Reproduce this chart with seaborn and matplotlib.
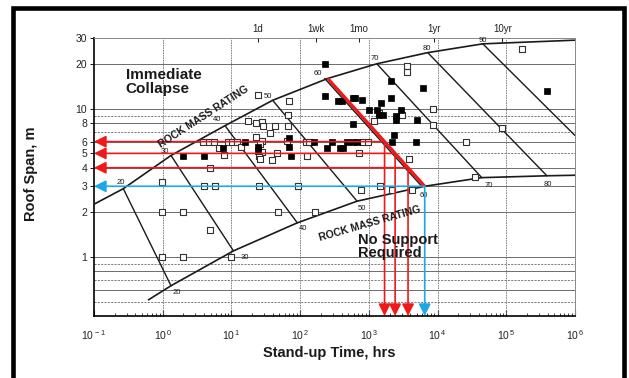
import numpy as np
import pandas as pd
import matplotlib
matplotlib.use("Agg")
import matplotlib.pyplot as plt
import matplotlib.transforms as mtransforms
from matplotlib.patches import Rectangle
from matplotlib.ticker import FixedLocator, NullLocator, LogLocator, NullFormatter
import seaborn as sns

# ---------------- data ----------------
# Upper limit curve (immediate collapse): stand-up time [hrs] vs roof span [m]
upper_hours = [0.1, 0.267, 1.32, 8.07, 39.8, 252, 1305, 7190, 45500, 1.0e6]
upper_span = [2.27, 2.89, 4.84, 7.69, 11.4, 16.0, 20.1, 23.9, 27.4, 29.0]

# Lower limit curve (no support required)
lower_hours = [0.62, 1.32, 10.7, 91, 674, 6500, 44000, 3.9e5, 1.0e6]
lower_span = [0.514, 0.64, 1.10, 1.70, 2.38, 3.0, 3.43, 3.53, 3.56]

# Rock mass rating contours (end points on the two limit curves)
rmr_values = [20, 30, 40, 50, 60, 70, 80, 90]
rmr_top_hours = [0.267, 1.32, 8.07, 39.8, 252, 1305, 7190, 45500]
rmr_top_span = [2.89, 4.84, 7.69, 11.4, 16.0, 20.1, 23.9, 27.4]
rmr_bottom_hours = [1.32, 10.7, 91, 674, 6500, 44000, 3.9e5, 1.0e6]
rmr_bottom_span = [0.64, 1.10, 1.70, 2.38, 3.0, 3.43, 3.53, 6.6]

# Case histories: roof falls (filled) and stable / other cases (open)
filled_hours = [230, 230, 350, 410, 590, 630, 800, 2100, 6150, 2100, 1500, 1000,
                1300, 1400, 1600, 2500, 2500, 2900, 5000, 590, 2300, 2200, 4900,
                160, 290, 480, 590, 670, 380, 420, 250, 69, 69, 74, 24, 24.4, 16,
                7.5, 4.0, 2.0, 390000]
filled_span = [20.0, 12.2, 11.3, 11.3, 11.9, 11.9, 11.4, 15.3, 13.9, 11.9, 10.9, 9.85,
               9.8, 9.1, 9.1, 9.0, 8.4, 9.8, 8.4, 7.9, 6.6, 6.0, 6.0,
               5.95, 5.95, 5.95, 5.95, 5.95, 5.47, 5.47, 5.4, 6.3, 5.5, 4.8, 5.5, 5.2, 5.95,
               5.4, 4.8, 4.8, 13.2]

open_hours = [3600, 3600, 168000, 8500, 8500, 1400, 3000, 1200, 830, 980, 730, 3850,
              26000, 86000, 35000, 24, 70, 17.6, 23, 27.6, 29, 43, 37, 67, 66, 4.9,
              7.9, 6.7, 3.9, 4.7, 5.6, 8.9, 10.2, 12, 23, 27.6, 26, 27.6, 25, 26, 39,
              46, 64, 120, 136, 125, 14, 0.97, 4.0, 5.8, 25, 94, 1450, 2150, 760,
              4200, 0.97, 2.0, 47, 165, 4.9, 0.97, 2.0, 9.9]
open_span = [19.4, 17.8, 25.2, 10.0, 7.8, 9.4, 9.1, 8.3, 6.0, 6.0, 5.0, 4.6,
             6.0, 7.4, 3.46, 12.4, 11.3, 8.3, 8.0, 8.1, 7.6, 7.6, 6.9, 9.1, 7.6, 4.0,
             4.9, 5.4, 5.95, 5.95, 5.95, 5.95, 5.95, 5.95, 6.4, 6.1, 5.8, 5.1, 4.8, 4.6, 4.5,
             5.0, 6.1, 5.95, 5.95, 4.8, 5.5, 3.2, 3.0, 3.0, 3.0, 3.0, 3.0, 2.85, 2.85,
             2.85, 2.0, 2.0, 2.0, 2.0, 1.52, 1.0, 1.0, 1.0]

example_rmr = 60
red_spans = [6, 5, 4]
cyan_span = 3.0

# Axis ticks
span_ticks = [1, 2, 3, 4, 5, 6, 8, 10, 20, 30]
hour_ticks = [0.1, 1, 10, 100, 1e3, 1e4, 1e5, 1e6]
hour_labels = [r"$10^{\,-1}$", r"$10^{\,0}$", r"$10^{\,1}$", r"$10^{\,2}$",
               r"$10^{\,3}$", r"$10^{\,4}$", r"$10^{\,5}$", r"$10^{\,6}$"]
period_hours = [24, 168, 720, 8760, 87600]
period_labels = ["1d", "1wk", "1mo", "1yr", "10yr"]

# ---------------- style ----------------
sns.set_theme(style="white")
plt.rcParams["font.family"] = ["Liberation Sans", "DejaVu Sans"]
plt.rcParams["mathtext.fontset"] = "custom"
plt.rcParams["mathtext.rm"] = "Liberation Sans"
plt.rcParams["mathtext.it"] = "Liberation Sans:italic"
plt.rcParams["mathtext.bf"] = "Liberation Sans:bold"

RED = "#f01818"
CYAN = "#1aa8e6"
INK = "#1a1a1a"

fig = plt.figure(figsize=(6.29, 3.78), dpi=100)
ax = fig.add_axes([94 / 629, 1 - 316 / 378, (575 - 94) / 629, (316 - 38) / 378])
ax.set_xscale("log")
ax.set_yscale("log")
ax.set_xlim(0.1, 1e6)
ax.set_ylim(0.4, 30)

# grid
solid_rows = [0.6, 0.8, 1, 2, 3, 4, 6, 8, 10, 20]
dashed_rows = [0.5, 0.7, 0.9, 5, 7, 9]
for v in solid_rows:
    ax.axhline(v, color="#555555", lw=0.6, zorder=1)
for v in dashed_rows:
    ax.axhline(v, color="#666666", lw=0.6, ls=(0, (2.5, 1.5)), zorder=1)
for v in [1, 10, 100, 1e3, 1e4, 1e5]:
    ax.axvline(v, color="#777777", lw=0.6, ls=(0, (2, 1)), zorder=1)

# limit curves
curves = pd.concat([
    pd.DataFrame({"hours": upper_hours, "span": upper_span, "curve": "upper"}),
    pd.DataFrame({"hours": lower_hours, "span": lower_span, "curve": "lower"}),
])
sns.lineplot(data=curves, x="hours", y="span", units="curve", estimator=None,
             sort=False, color=INK, lw=1.2, ax=ax, zorder=3)

# RMR contour lines
shift_left = mtransforms.offset_copy(ax.transData, fig=fig, x=-3, y=0, units="dots")
for r, x0, y0, x1, y1 in zip(rmr_values, rmr_top_hours, rmr_top_span,
                             rmr_bottom_hours, rmr_bottom_span):
    tr = shift_left if r == example_rmr else ax.transData
    ax.plot([x0, x1], [y0, y1], color=INK, lw=1.0, zorder=3, transform=tr)

top_offsets = {20: (-3, 6), 30: (-6, 4), 40: (-8, 6), 50: (-5, 4),
               60: (-10, 5), 70: (-2, 5), 80: (-1, 4), 90: (0, 3)}
bottom_offsets = {20: (6, -7), 30: (11, -7), 40: (6, -6), 50: (5, -7),
                  60: (-1, -9), 70: (7, -8), 80: (1, -9)}
for r, x0, y0, x1, y1 in zip(rmr_values, rmr_top_hours, rmr_top_span,
                             rmr_bottom_hours, rmr_bottom_span):
    ax.annotate(str(r), (x0, y0), xytext=top_offsets[r], textcoords="offset pixels",
                ha="center", va="center", fontsize=5.5, color=INK, zorder=4)
    if r in bottom_offsets:
        ax.annotate(str(r), (x1, y1), xytext=bottom_offsets[r], textcoords="offset pixels",
                    ha="center", va="center", fontsize=5.5, color=INK, zorder=4)

# case histories
pts = pd.concat([
    pd.DataFrame({"hours": open_hours, "span": open_span, "kind": "open"}),
    pd.DataFrame({"hours": filled_hours, "span": filled_span, "kind": "filled"}),
])
sns.scatterplot(data=pts[pts.kind == "open"], x="hours", y="span", marker="s", s=16,
                facecolor="white", edgecolor="#333333", linewidth=0.8, ax=ax, zorder=5,
                legend=False)
sns.scatterplot(data=pts[pts.kind == "filled"], x="hours", y="span", marker="s", s=16,
                color="black", edgecolor="black", linewidth=0.5, ax=ax, zorder=6,
                legend=False)

# worked example along the RMR 60 line
i60 = rmr_values.index(example_rmr)
lx0, ly0 = np.log10(rmr_top_hours[i60]), np.log10(rmr_top_span[i60])
lx1, ly1 = np.log10(rmr_bottom_hours[i60]), np.log10(rmr_bottom_span[i60])


def hours_on_line(span):
    t = (np.log10(span) - ly0) / (ly1 - ly0)
    return 10 ** (lx0 + t * (lx1 - lx0))


ax.plot([rmr_top_hours[i60], rmr_bottom_hours[i60]],
        [rmr_top_span[i60], rmr_bottom_span[i60]], color=RED, lw=2.3, zorder=7,
        solid_capstyle="butt")

arrow_style = "-|>,head_length=0.9,head_width=0.45"
ymin = ax.get_ylim()[0]
xmin = ax.get_xlim()[0]
for span, col in [(s, RED) for s in red_spans] + [(cyan_span, CYAN)]:
    h = hours_on_line(span)
    for tip in [(xmin, span), (h, ymin)]:
        ax.annotate("", xy=tip, xytext=(h, span),
                    arrowprops=dict(arrowstyle=arrow_style, color=col, lw=1.2,
                                    mutation_scale=8, shrinkA=0, shrinkB=0),
                    zorder=8)

# region labels
ax.text(0.29, 15.2, "Immediate\nCollapse", ha="left", va="center", fontsize=11,
        fontweight="bold", color=INK, linespacing=0.95, zorder=9)
ax.text(697, 1.18, "No Support\nRequired", ha="left", va="center", fontsize=10.5,
        fontweight="bold", color=INK, linespacing=0.9, zorder=9)
ax.text(3.86, 8.84, "ROCK MASS RATING", rotation=33, rotation_mode="anchor",
        ha="center", va="center", fontsize=7.5, fontweight="bold", color=INK, zorder=9)
ax.text(1040, 1.69, "ROCK MASS RATING", rotation=16, rotation_mode="anchor",
        ha="center", va="center", fontsize=7.5, fontweight="bold", color=INK, zorder=9)

# axes, ticks and labels
ax.xaxis.set_major_locator(FixedLocator(hour_ticks))
ax.set_xticklabels(hour_labels)
ax.xaxis.set_minor_locator(LogLocator(base=10, subs=np.arange(2, 10)))
ax.xaxis.set_minor_formatter(NullFormatter())
ax.yaxis.set_major_locator(FixedLocator(span_ticks))
ax.set_yticklabels([str(v) for v in span_ticks])
ax.yaxis.set_minor_locator(NullLocator())
ax.tick_params(axis="x", which="major", direction="in", length=4, width=0.8,
               color=INK, labelsize=7.5, labelcolor="#222222", pad=9, bottom=True)
ax.tick_params(axis="x", which="minor", direction="in", length=2, width=0.6,
               color=INK, bottom=True)
ax.tick_params(axis="y", which="major", direction="out", length=3, width=0.7,
               color=INK, labelsize=7.5, labelcolor="#222222", pad=2, left=True)
for side in ["left", "bottom"]:
    ax.spines[side].set_color("black")
    ax.spines[side].set_linewidth(1.2)
for side in ["top", "right"]:
    ax.spines[side].set_color("#888888")
    ax.spines[side].set_linewidth(0.7)
ax.set_xlabel("")
ax.set_ylabel("")

top = ax.twiny()
top.set_xscale("log")
top.set_xlim(ax.get_xlim())
top.xaxis.set_major_locator(FixedLocator(period_hours))
top.set_xticklabels(period_labels)
top.xaxis.set_minor_locator(NullLocator())
top.tick_params(axis="x", direction="in", length=3, width=0.7, color=INK,
                labelsize=7, labelcolor="#222222", pad=3)
for sp in top.spines.values():
    sp.set_visible(False)

fig.text(329 / 629, 1 - 353 / 378, "Stand-up Time, hrs", ha="center", va="center",
         fontsize=10.5, fontweight="bold", color=INK)
fig.text(31 / 629, 1 - 174 / 378, "Roof Span, m", ha="center", va="center",
         rotation=90, fontsize=10.5, fontweight="bold", color=INK)

# page frame
frame = Rectangle((12.5 / 629, -0.05), (624 - 12.5) / 629, 1 - 8 / 378 + 0.05,
                  transform=fig.transFigure, fill=False, lw=3.3, ec="black",
                  clip_on=False)
fig.add_artist(frame)

fig.savefig("out.png", dpi=100, facecolor="white")
